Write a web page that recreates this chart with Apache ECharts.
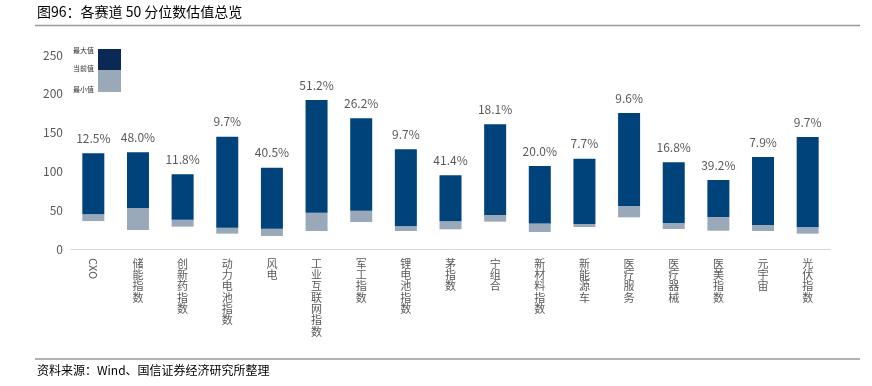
<!DOCTYPE html>
<html>
<head>
<meta charset="utf-8">
<script src="https://cdn.jsdelivr.net/npm/echarts@6/dist/echarts.min.js"></script>
<style>html,body{margin:0;padding:0;background:#fff}#c{width:872px;height:386px}</style>
</head>
<body>
<div id="c"></div>
<script>
var categories = ['CXO','储能指数','创新药指数','动力电池指数','风电','工业互联网指数','军工指数','锂电池指数','茅指数','宁组合','新材料指数','新能源车','医疗服务','医疗器械','医美指数','元宇宙','光伏指数'];
var maxValues = [123.3,124.6,96.2,144.7,104.8,192,168.4,128.5,95,160.7,107,116.4,175.3,111.7,88.9,118.6,144.3];
var curValues = [44.7,52.8,37.8,27.5,26.2,46.8,49.4,29.2,35.7,43.8,33,32.2,55.4,33.5,41.2,30.9,27.9];
var minValues = [36,24.5,28.8,19.8,16.8,23.2,34.8,23.2,25.4,35.2,21.9,28.4,40.8,25.8,23.6,23.2,19.8];
var pctLabels = ['12.5%','48.0%','11.8%','9.7%','40.5%','51.2%','26.2%','9.7%','41.4%','18.1%','20.0%','7.7%','9.6%','16.8%','39.2%','7.9%','9.7%'];
var yTicks = [0,50,100,150,200,250];

var FONT = '"Noto Sans CJK SC", "Noto Sans", sans-serif';
var chart = echarts.init(document.getElementById('c'));
var lowerSeg = curValues.map(function(v,i){return +(v - minValues[i]).toFixed(2);});
var upperSeg = maxValues.map(function(v,i){return +(v - curValues[i]).toFixed(2);});
var isAscii = function(s){return /^[\x00-\x7f]+$/.test(s);};

chart.setOption({
  animation: false,
  textStyle: {fontFamily: FONT},
  grid: {left: 71, right: 42, top: 55, bottom: 137},
  xAxis: [{
    type: 'category', data: categories,
    axisLine: {lineStyle: {color: '#d9d9d9', width: 1}},
    axisTick: {show: false},
    axisLabel: {
      interval: 0, margin: 9, color: '#595959', fontSize: 11, lineHeight: 11.3,
      verticalAlign: 'top',
      formatter: function(v){ return isAscii(v) ? '' : v.split('').join('\n'); }
    }
  },{
    type: 'category', data: categories, position: 'bottom',
    axisLine: {show: false}, axisTick: {show: false},
    axisLabel: {
      interval: 0, margin: 9, rotate: -90, color: '#595959', fontSize: 11,
      formatter: function(v){ return isAscii(v) ? v : ''; }
    }
  }],
  yAxis: {
    type: 'value', min: yTicks[0], max: yTicks[yTicks.length-1], interval: 50,
    axisLine: {show: false}, axisTick: {show: false}, splitLine: {show: false},
    axisLabel: {color: '#595959', fontSize: 12, margin: 8}
  },
  series: [{
    type: 'bar', stack: 's', barWidth: 22, data: minValues,
    itemStyle: {color: 'transparent'}, silent: true
  },{
    type: 'bar', stack: 's', barWidth: 22, data: lowerSeg,
    itemStyle: {color: '#9aa9b9'}
  },{
    type: 'bar', stack: 's', barWidth: 22, data: upperSeg,
    itemStyle: {color: '#00427a'},
    label: {
      show: true, position: 'top', distance: 9, color: '#595959', fontSize: 12,
      formatter: function(p){ return pctLabels[p.dataIndex]; }
    }
  }],
  graphic: [
    {type: 'text', left: 37, top: 5, style: {text: '图96：各赛道 50 分位数估值总览', font: '14px ' + FONT, fill: '#000'}},
    {type: 'line', shape: {x1: 35, y1: 25.5, x2: 860, y2: 25.5}, style: {stroke: '#999', lineWidth: 1.5}},
    {type: 'line', shape: {x1: 35, y1: 359, x2: 860, y2: 359}, style: {stroke: '#999', lineWidth: 1.5}},
    {type: 'text', left: 37, top: 364, style: {text: '资料来源：Wind、国信证券经济研究所整理', font: '12px ' + FONT, fill: '#000'}},
    {type: 'rect', shape: {x: 98, y: 49, width: 23, height: 21}, style: {fill: '#0a2a55'}},
    {type: 'rect', shape: {x: 98, y: 70, width: 23, height: 22}, style: {fill: '#9aa9b9'}},
    {type: 'text', left: 73, top: 47, style: {text: '最大值', font: '7px ' + FONT, fill: '#333'}},
    {type: 'text', left: 73, top: 65, style: {text: '当前值', font: '7px ' + FONT, fill: '#333'}},
    {type: 'text', left: 73, top: 86, style: {text: '最小值', font: '7px ' + FONT, fill: '#333'}}
  ]
});
</script>
</body>
</html>
